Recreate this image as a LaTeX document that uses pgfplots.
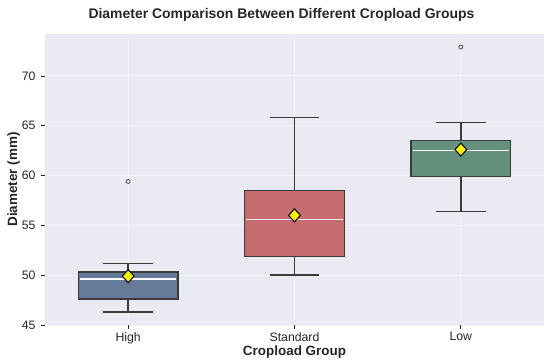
\documentclass[border=0pt]{standalone}
\usepackage{pgfplots}
\pgfplotsset{compat=1.18}
\usepackage{fontspec}
\setmainfont{Liberation Sans}
\definecolor{bg}{HTML}{EAEAF2}
\definecolor{gridc}{HTML}{F1F1F6}
\definecolor{cHigh}{HTML}{667A99}
\definecolor{cStd}{HTML}{C46C6E}
\definecolor{cLow}{HTML}{64907E}
\definecolor{edge}{HTML}{3A3A3A}
\definecolor{txt}{HTML}{262626}
\begin{document}
\begin{tikzpicture}
\begin{axis}[
  scale only axis,
  width=499bp, height=291bp,
  xmin=-0.5, xmax=2.5,
  ymin=45, ymax=74.2,
  axis background/.style={fill=bg},
  axis line style={draw=none},
  grid=major,
  major grid style={draw=gridc, line width=0.9pt},
  xtick={0,1,2},
  xticklabels={High,Standard,Low},
  ytick={45,50,55,60,65,70},
  tick align=outside,
  tick pos=left,
  major tick length=4bp,
  tick style={draw=txt, line width=0.7pt},
  ticklabel style={font=\fontsize{12.3}{14}\selectfont, text=txt},
  yticklabel style={xshift=-2bp},
  /pgf/number format/assume math mode=true,
  title={Diameter Comparison Between Different Cropload Groups},
  title style={font=\bfseries\fontsize{14}{16}\selectfont, text=txt, yshift=3bp, xshift=-13bp},
  xlabel={Cropload Group},
  ylabel={Diameter (mm)},
  xlabel style={font=\bfseries\fontsize{13.5}{15}\selectfont, text=txt, yshift=5bp},
  ylabel style={font=\bfseries\fontsize{13.5}{15}\selectfont, text=txt, yshift=-5bp},
  every axis plot/.append style={line width=1.4pt},
]
% High
\addplot[fill=cHigh, draw=edge] coordinates {(-0.3,47.6) (0.3,47.6) (0.3,50.3) (-0.3,50.3)} -- cycle;
\addplot[draw=edge] coordinates {(0,47.6) (0,46.3)};
\addplot[draw=edge] coordinates {(0,50.3) (0,51.2)};
\addplot[draw=edge] coordinates {(-0.15,46.3) (0.15,46.3)};
\addplot[draw=edge] coordinates {(-0.15,51.2) (0.15,51.2)};
\addplot[draw=white, line width=1.6pt] coordinates {(-0.29,49.6) (0.29,49.6)};
% Standard
\addplot[fill=cStd, draw=edge] coordinates {(0.7,51.9) (1.3,51.9) (1.3,58.5) (0.7,58.5)} -- cycle;
\addplot[draw=edge] coordinates {(1,51.9) (1,50.0)};
\addplot[draw=edge] coordinates {(1,58.5) (1,65.8)};
\addplot[draw=edge] coordinates {(0.85,50.0) (1.15,50.0)};
\addplot[draw=edge] coordinates {(0.85,65.8) (1.15,65.8)};
\addplot[draw=white, line width=1.6pt] coordinates {(0.71,55.6) (1.29,55.6)};
% Low
\addplot[fill=cLow, draw=edge] coordinates {(1.7,59.9) (2.3,59.9) (2.3,63.5) (1.7,63.5)} -- cycle;
\addplot[draw=edge] coordinates {(2,59.9) (2,56.4)};
\addplot[draw=edge] coordinates {(2,63.5) (2,65.3)};
\addplot[draw=edge] coordinates {(1.85,56.4) (2.15,56.4)};
\addplot[draw=edge] coordinates {(1.85,65.3) (2.15,65.3)};
\addplot[draw=white, line width=1.6pt] coordinates {(1.71,62.5) (2.29,62.5)};
% outliers
\addplot[only marks, mark=o, mark size=2bp, mark options={draw=edge!90, fill=white, line width=0.8pt}]
  coordinates {(0,59.4) (2,72.9)};
% means
\addplot[only marks, mark=diamond*, mark size=6.5bp, mark options={fill=yellow, draw=black, line width=1pt, xscale=1.2}]
  coordinates {(0,49.9) (1,56.0) (2,62.6)};
\end{axis}
\pgfresetboundingbox
\path[use as bounding box] (current axis.south west) ++(-45bp,-39bp) rectangle ++(550bp,364bp);
\end{tikzpicture}
\end{document}
